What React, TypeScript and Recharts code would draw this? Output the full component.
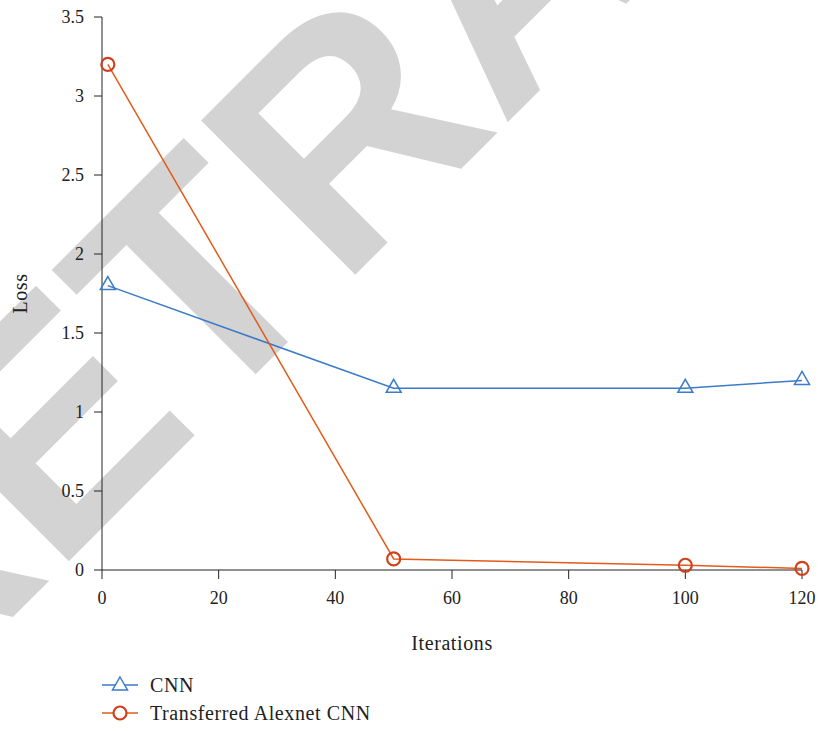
import React from "react";
import {
  LineChart,
  Line,
  XAxis,
  YAxis,
  Legend,
} from "recharts";

const iterations = [1, 50, 100, 120];
const cnnLoss = [1.8, 1.15, 1.15, 1.2];
const alexnetLoss = [3.2, 0.07, 0.03, 0.01];

const xTicks = [0, 20, 40, 60, 80, 100, 120];
const yTicks = [0, 0.5, 1, 1.5, 2, 2.5, 3, 3.5];

const seriesNames = ["CNN", "Transferred Alexnet CNN"];

const BLUE = "#3b7bc8";
const ORANGE = "#e35b1a";
const RED = "#d1401c";
const FONT = "'Liberation Serif', 'Times New Roman', serif";

const data = iterations.map((iter, i) => ({
  iter,
  cnn: cnnLoss[i],
  alexnet: alexnetLoss[i],
}));

function Triangle({ cx, cy }: any) {
  if (cx == null || cy == null) return null;
  return (
    <path
      d={`M${cx},${cy - 9} L${cx + 7.5},${cy + 4} L${cx - 7.5},${cy + 4} Z`}
      fill="none"
      stroke={BLUE}
      strokeWidth={1.5}
    />
  );
}

function Ring({ cx, cy }: any) {
  if (cx == null || cy == null) return null;
  return <circle cx={cx} cy={cy} r={6.5} fill="none" stroke={RED} strokeWidth={2.2} />;
}

function LegendBox() {
  const rows = [
    { name: seriesNames[0], color: BLUE, marker: "tri" },
    { name: seriesNames[1], color: ORANGE, marker: "ring" },
  ];
  return (
    <div style={{ height: 58, paddingLeft: 102 }}>
      {rows.map((r) => (
        <div key={r.name} style={{ display: "flex", alignItems: "center", height: 28 }}>
          <svg width={36} height={20}>
            <line x1={0} y1={10} x2={36} y2={10} stroke={r.color} strokeWidth={1.5} />
            {r.marker === "tri" ? (
              <path d="M18,2 L25.5,15 L10.5,15 Z" fill="white" stroke={BLUE} strokeWidth={1.5} />
            ) : (
              <circle cx={18} cy={10} r={6.5} fill="white" stroke={RED} strokeWidth={2.2} />
            )}
          </svg>
          <span
            style={{
              marginLeft: 12,
              fontFamily: FONT,
              fontSize: 20,
              letterSpacing: 0.6,
              color: "#222",
            }}
          >
            {r.name}
          </span>
        </div>
      ))}
    </div>
  );
}

export default function App() {
  return (
    <div style={{ position: "absolute", left: 0, top: 0, width: 821, height: 731, background: "#fff", overflow: "hidden" }}>
      <svg
        width={821}
        height={731}
        style={{ position: "absolute", left: 0, top: 0 }}
      >
        <text
          x={-108}
          y={738}
          transform="rotate(-45 -108 738)"
          textAnchor="start"
          fontFamily="'Liberation Sans', Arial, sans-serif"
          fontWeight="bold"
          fontSize={317}
          fill="#d3d3d3"
        >
          RETRACTED
        </text>
      </svg>
      <div style={{ position: "absolute", left: 0, top: 0 }}>
        <LineChart
          width={821}
          height={731}
          data={data}
          margin={{ top: 17, right: 19, bottom: 2, left: 0 }}
        >
          <XAxis
            dataKey="iter"
            type="number"
            domain={[0, 120]}
            ticks={xTicks}
            interval={0}
            height={101}
            tickSize={9}
            tickMargin={12}
            stroke="#222"
            tick={{ fill: "#222", fontSize: 18, fontFamily: FONT }}
            label={{
              content: ({ viewBox }: any) => (
                <text
                  x={viewBox.x + viewBox.width / 2}
                  y={650}
                  textAnchor="middle"
                  fontFamily={FONT}
                  fontSize={20}
                  letterSpacing={0.6}
                  fill="#222"
                >
                  Iterations
                </text>
              ),
            }}
          />
          <YAxis
            type="number"
            domain={[0, 3.5]}
            ticks={yTicks}
            interval={0}
            width={102}
            tickSize={8}
            tickMargin={10}
            stroke="#222"
            tick={{ fill: "#222", fontSize: 18, fontFamily: FONT }}
            label={{
              content: ({ viewBox }: any) => {
                const cy = viewBox.y + viewBox.height / 2;
                return (
                  <text
                    x={27}
                    y={cy}
                    transform={`rotate(-90 27 ${cy})`}
                    textAnchor="middle"
                    fontFamily={FONT}
                    fontSize={20}
                    letterSpacing={0.6}
                    fill="#222"
                  >
                    Loss
                  </text>
                );
              },
            }}
          />
          <Legend
            verticalAlign="bottom"
            align="left"
            layout="horizontal"
            content={() => <LegendBox />}
          />
          <Line
            dataKey="cnn"
            name={seriesNames[0]}
            stroke={BLUE}
            strokeWidth={1.5}
            dot={<Triangle />}
            isAnimationActive={false}
          />
          <Line
            dataKey="alexnet"
            name={seriesNames[1]}
            stroke={ORANGE}
            strokeWidth={1.5}
            dot={<Ring />}
            isAnimationActive={false}
          />
        </LineChart>
      </div>
    </div>
  );
}
